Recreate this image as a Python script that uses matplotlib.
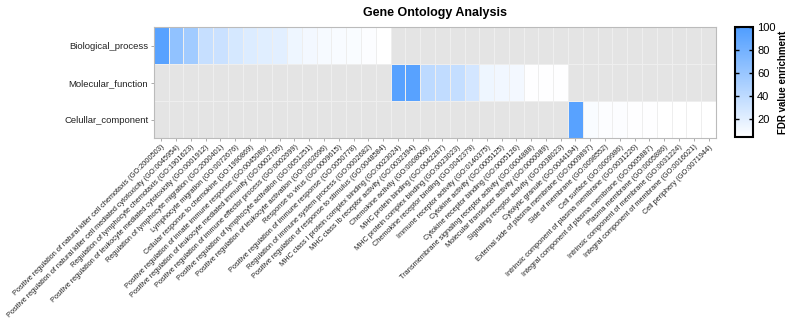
import numpy as np
import matplotlib
matplotlib.use("Agg")
import matplotlib.pyplot as plt
from matplotlib.colors import LinearSegmentedColormap

plt.rcParams["font.family"] = ["Liberation Sans", "DejaVu Sans"]

rows = ["Biological_process", "Molecular_function", "Celullar_component"]

bio_terms = [
    "Positive regulation of natural killer cell chemotaxis (GO:2000503)",
    "Positive regulation of natural killer cell mediated cytotoxicity (GO:0045954)",
    "Regulation of lymphocyte chemotaxis (GO:1901623)",
    "Positive regulation of leukocyte mediated cytotoxicity (GO:0001912)",
    "Regulation of lymphocyte migration (GO:2000401)",
    "Lymphocyte migration (GO:0072676)",
    "Cellular response to chemokine (GO:1990869)",
    "Positive regulation of innate immune response (GO:0045089)",
    "Positive regulation of leukocyte mediated immunity (GO:0002705)",
    "Positive regulation of immune effector process (GO:0002699)",
    "Positive regulation of lymphocyte activation (GO:0051251)",
    "Positive regulation of leukocyte activation (GO:0002696)",
    "Response to virus (GO:0009615)",
    "Positive regulation of immune response (GO:0050778)",
    "Regulation of immune system process (GO:0002682)",
    "Positive regulation of response to stimulus (GO:0048584)",
]
bio_vals = [95, 64, 55, 35, 33, 27, 23, 21, 20, 13, 11, 9, 8, 7, 6, 4]

mol_terms = [
    "MHC class I protein complex binding (GO:0023024)",
    "MHC class Ib receptor activity (GO:0032394)",
    "Chemokine activity (GO:0008009)",
    "MHC protein binding (GO:0042287)",
    "MHC protein complex binding (GO:0023023)",
    "Chemokine receptor binding (GO:0042379)",
    "Immune receptor activity (GO:0140375)",
    "Cytokine activity (GO:0005125)",
    "Cytokine receptor binding (GO:0005126)",
    "Transmembrane signaling receptor activity (GO:0004888)",
    "Molecular transducer activity (GO:0060089)",
    "Signaling receptor activity (GO:0038023)",
]
mol_vals = [95, 95, 40, 38, 36, 28, 13, 12, 11, 5, 5, 5]

cel_terms = [
    "Cytolytic granule (GO:0044194)",
    "External side of plasma membrane (GO:0009897)",
    "Side of membrane (GO:0098552)",
    "Cell surface (GO:0009986)",
    "Intrinsic component of plasma membrane (GO:0031226)",
    "Integral component of plasma membrane (GO:0005887)",
    "Plasma membrane (GO:0005886)",
    "Intrinsic component of membrane (GO:0031224)",
    "Integral component of membrane (GO:0016021)",
    "Cell periphery (GO:0071944)",
]
cel_vals = [95, 7, 6, 6, 5, 5, 4, 4, 4, 4]

terms = bio_terms + mol_terms + cel_terms
groups = [bio_vals, mol_vals, cel_vals]
n = len(terms)
Z = np.full((3, n), np.nan)
start = 0
for i, vals in enumerate(groups):
    Z[i, start:start + len(vals)] = vals
    start += len(vals)
Z = np.ma.masked_invalid(Z)

cmap = LinearSegmentedColormap.from_list("fdr", ["#ffffff", "#4f9dff"])
cmap.set_bad("#e4e4e4")

fig = plt.figure(figsize=(7.89, 3.22), dpi=100)
ax = fig.add_axes([0.195, 0.571, 0.7125, 0.345])
mesh = ax.pcolormesh(np.arange(n + 1), np.arange(4), Z, cmap=cmap, vmin=4, vmax=100,
                     edgecolors="#eeeeee", linewidth=0.4)
ax.set_xlim(0, n)
ax.set_ylim(3, 0)
ax.set_xticks(np.arange(n) + 0.5)
ax.set_xticklabels(terms, rotation=45, ha="right", rotation_mode="anchor", fontsize=5.3, color="#222222")
ax.set_yticks(np.arange(3) + 0.5)
ax.set_yticklabels(rows, fontsize=6.8, color="#222222")
ax.tick_params(length=2.5, width=0.5, color="#888888", pad=1.5)
for s in ax.spines.values():
    s.set_color("#bbbbbb")
    s.set_linewidth(0.8)
ax.set_title("Gene Ontology Analysis", fontsize=9, fontweight="bold", pad=8)

cax = fig.add_axes([0.9316, 0.5745, 0.0228, 0.3416])
cb = fig.colorbar(mesh, cax=cax, ticks=[20, 40, 60, 80, 100])
cb.outline.set_linewidth(1.5)
cb.outline.set_edgecolor("black")
cax.tick_params(labelsize=8, direction="in", length=3, width=1, left=True, right=True, pad=3)
cb.set_label("FDR value enrichment", fontsize=7, fontweight="bold", labelpad=2)

fig.savefig("out.png", dpi=100)
